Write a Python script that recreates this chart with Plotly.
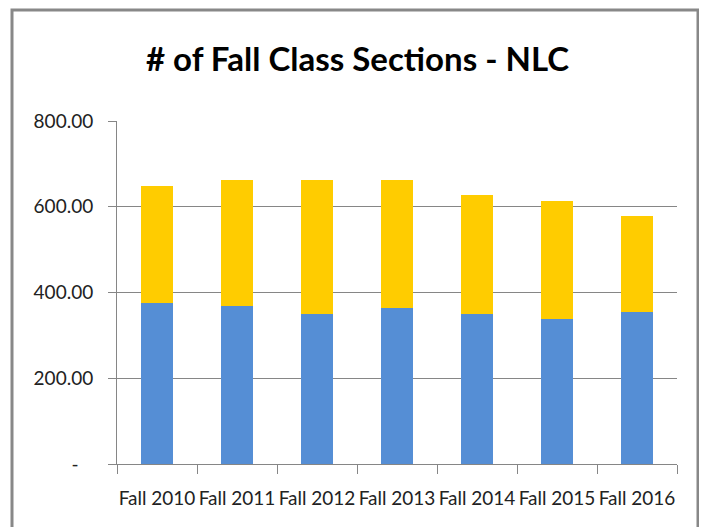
import plotly.graph_objects as go

categories = ["Fall 2010", "Fall 2011", "Fall 2012", "Fall 2013", "Fall 2014", "Fall 2015", "Fall 2016"]
blue_values = [375, 369, 351, 363, 351, 339, 354]
yellow_values = [273, 293, 311, 299, 276, 275, 224]
y_tick_vals = [0, 200, 400, 600, 800]
y_tick_text = ["-\u00a0\u00a0\u00a0", "200.00", "400.00", "600.00", "800.00"]

FONT = "Lato, Roboto, sans-serif"

fig = go.Figure()
fig.add_trace(go.Bar(x=categories, y=blue_values, marker=dict(color="#558ED5", line=dict(width=0)),
                     width=0.4, hoverinfo="y"))
fig.add_trace(go.Bar(x=categories, y=yellow_values, marker=dict(color="#FFCC00", line=dict(width=0)),
                     width=0.4, hoverinfo="y"))

# page body has an 8px margin, so the figure is laid out 8px up/left of the target
OFF = 8
W, H = 707 - OFF, 527 - OFF
L, R, T, B = 117 - OFF, 707 - 677, 121 - OFF, 527 - 464
pw, ph = W - L - R, H - T - B

def px_x(x):
    return (x - OFF - L) / pw

def px_y(y):
    return (H - B - (y - OFF)) / ph

fig.update_layout(
    barmode="stack",
    width=W, height=H,
    margin=dict(l=L, r=R, t=T, b=B, autoexpand=False),
    paper_bgcolor="white",
    plot_bgcolor="white",
    showlegend=False,
    title=dict(text="<b># of Fall Class Sections - NLC</b>", x=0.5, xanchor="center",
               y=1 - (59 - OFF) / H, yanchor="middle",
               font=dict(family=FONT, size=33, color="black")),
    font=dict(family=FONT, color="#222222"),
    xaxis=dict(type="category", tickson="boundaries", ticks="outside", ticklen=9,
               tickcolor="#868686", showline=True, linecolor="#868686", linewidth=1,
               showgrid=False, tickfont=dict(size=19, color="#222222"),
               tickangle=0, automargin=False, ticklabelstandoff=17),
    yaxis=dict(range=[0, 800], tickvals=y_tick_vals, ticktext=y_tick_text,
               ticks="outside", ticklen=8, tickcolor="#868686",
               showline=True, linecolor="#868686", linewidth=1,
               showgrid=True, gridcolor="#868686", gridwidth=1,
               zeroline=False, tickfont=dict(size=19, color="#222222"),
               automargin=False, ticklabelstandoff=11),
    shapes=[dict(type="rect", xref="paper", yref="paper",
                 x0=px_x(12), x1=px_x(698), y0=px_y(545), y1=px_y(10),
                 line=dict(color="#888888", width=3), fillcolor="rgba(0,0,0,0)",
                 layer="below")],
)

fig.write_html("out.html")
